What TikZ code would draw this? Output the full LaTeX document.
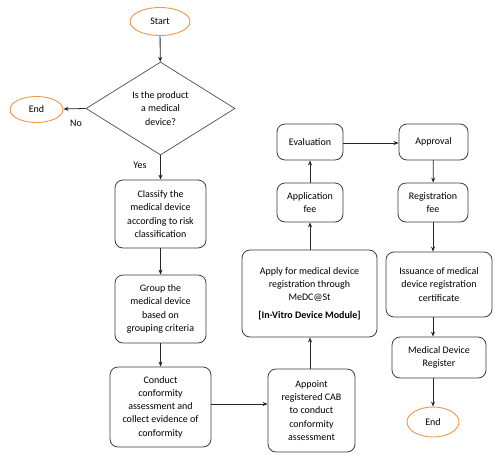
\documentclass[tikz,border=0pt]{standalone}
\usepackage{fontspec}
\setmainfont{Carlito}
\usetikzlibrary{shapes.geometric,arrows.meta}
\definecolor{ora}{RGB}{240,150,70}
\definecolor{edge}{RGB}{60,60,60}
\begin{document}
\begin{tikzpicture}[x=1pt,y=-1pt,
  every node/.style={font=\fontsize{10}{13.3}\selectfont, text=black},
  box/.style={draw=edge, line width=0.8pt, rounded corners=8pt, align=center, inner sep=0pt},
  term/.style={draw=ora, line width=0.9pt, ellipse, inner sep=0pt},
  arr/.style={draw=black!85, line width=0.8pt, -{Stealth[length=5pt,width=4pt]}}]
\useasboundingbox (0,0) rectangle (500,461);
\node[term, minimum width=60pt, minimum height=28pt] (start) at (160,21.5) {Start};
\node[draw=black!70, line width=0.7pt, diamond, aspect=1.6, minimum width=149pt, minimum height=93pt, inner sep=0pt, align=center] (q) at (160.5,108.5) {Is the product\\a medical\\device?};
\node[term, minimum width=53pt, minimum height=26pt] (end1) at (36.5,109.5) {End};
\node[box, minimum width=91pt, minimum height=68pt] (cls) at (160.5,214) {Classify the\\medical device\\according to risk\\classification};
\node[box, minimum width=91pt, minimum height=68pt] (grp) at (160.5,309) {Group the\\medical device\\based on\\grouping criteria};
\node[box, minimum width=101pt, minimum height=80pt] (con) at (160.5,407) {Conduct\\conformity\\assessment and\\collect evidence of\\conformity};
\node[box, minimum width=87pt, minimum height=83pt] (app) at (311.5,410.5) {Appoint\\registered CAB\\to conduct\\conformity\\assessment};
\node[box, minimum width=135pt, minimum height=87pt] (apl) at (309.5,293.5) {Apply for medical device\\registration through\\MeDC@St\\[4pt]\textbf{[In-Vitro Device Module]}};
\node[box, minimum width=66pt, minimum height=39pt] (fee) at (310,202.5) {Application\\fee};
\node[box, minimum width=66pt, minimum height=36pt] (eva) at (310,142) {Evaluation};
\node[box, minimum width=69pt, minimum height=36pt] (apr) at (433.5,142) {Approval};
\node[box, minimum width=70pt, minimum height=39pt] (rfee) at (433,202.5) {Registration\\fee};
\node[box, minimum width=106pt, minimum height=65pt] (iss) at (439,284.5) {Issuance of medical\\device registration\\certificate};
\node[box, minimum width=94pt, minimum height=41pt] (mdr) at (439,357.5) {Medical Device\\Register};
\node[term, minimum width=52pt, minimum height=30pt] (end2) at (433,422) {End};
\node (no) at (76,123) {No};
\node (yes) at (140,165) {Yes};
\draw[arr] (start) -- (q);
\draw[arr] (q.west) -- (end1);
\draw[arr] (q.south) -- (cls);
\draw[arr] (cls) -- (grp);
\draw[arr] (grp) -- (con);
\draw[arr] (con.east |- 0,404) -- (app.west |- 0,404);
\draw[arr] (app.north -| 310,0) -- (apl.south -| 310,0);
\draw[arr] (apl.north -| 310,0) -- (fee.south -| 310,0);
\draw[arr] (fee) -- (eva);
\draw[arr] (eva.east |- 0,143) -- (apr.west |- 0,143);
\draw[arr] (apr) -- (rfee);
\draw[arr] (rfee.south) -- (rfee.south |- iss.north);
\draw[arr] (iss.south -| 433,0) -- (mdr.north -| 433,0);
\draw[arr] (mdr.south -| 433,0) -- (end2);
\end{tikzpicture}
\end{document}
